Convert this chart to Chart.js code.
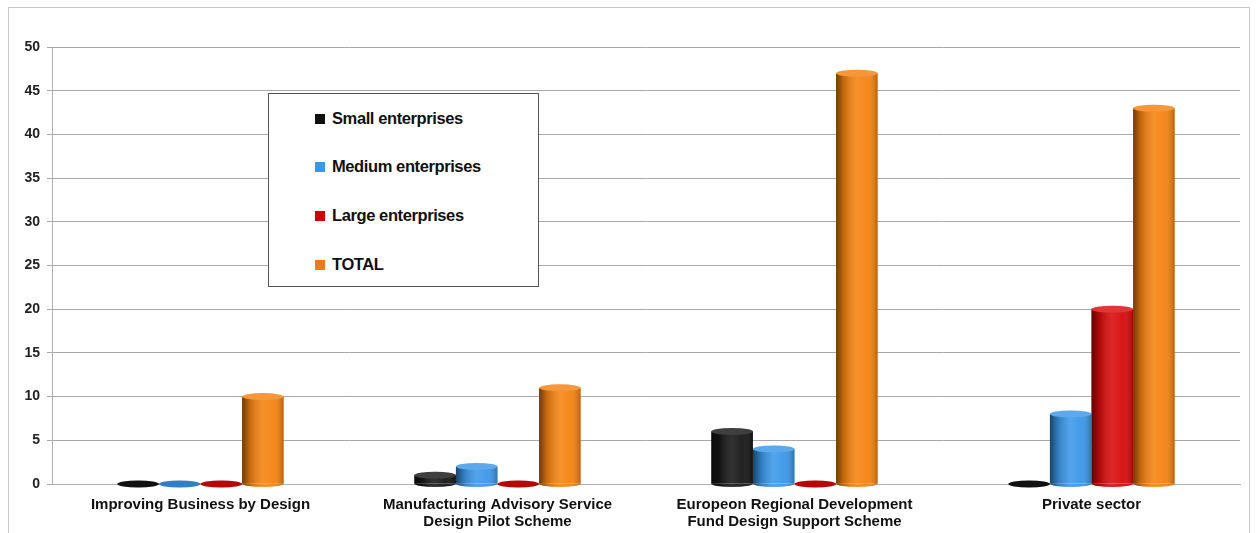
<!DOCTYPE html>
<html>
<head>
<meta charset="utf-8">
<script src="https://cdn.jsdelivr.net/npm/chart.js@4.4.1/dist/chart.umd.min.js"></script>
<style>
  html, body { margin: 0; padding: 0; background: #fff; }
  #wrap { position: relative; width: 1257px; height: 533px; }
  #frame { position: absolute; left: 8px; top: 7px; width: 1242px; height: 530px; border: 1px solid #c8c8c8; box-sizing: border-box; }
  #chart { position: absolute; left: 0; top: 0; }
  #legend {
    position: absolute; left: 268px; top: 93px; width: 271px; height: 194px;
    border: 1px solid #555; background: #fff; box-sizing: border-box;
    font-family: 'Liberation Sans', Arial, sans-serif; font-weight: bold; font-size: 16.5px; color: #111;
  }
  #legend .item { position: absolute; left: 46px; height: 20px; line-height: 20px; white-space: nowrap; letter-spacing: -0.4px; }
  #legend .sw { display: inline-block; width: 10px; height: 10px; margin-right: 7px; vertical-align: 0px; }
</style>
</head>
<body>
<div id="wrap">
  <div id="frame"></div>
  <canvas id="chart" width="1257" height="533"></canvas>
  <div id="legend"></div>
</div>
<script>
// data
const categories = [
  'Improving Business by Design',
  ['Manufacturing Advisory Service', 'Design Pilot Scheme'],
  ['Europeon Regional Development', 'Fund Design Support Scheme'],
  'Private sector'
];
const seriesNames = ['Small enterprises', 'Medium enterprises', 'Large enterprises', 'TOTAL'];
const smallValues  = [0, 1, 6, 0];
const mediumValues = [0, 2, 4, 8];
const largeValues  = [0, 0, 0, 20];
const totalValues  = [10, 11, 47, 43];
const yTicks = [0, 5, 10, 15, 20, 25, 30, 35, 40, 45, 50];

const seriesColors = ['#151515', '#3a97e8', '#d80a0a', '#f5820f'];
const legendColors = ['#111111', '#3399ee', '#cc0000', '#ee7722'];

const allValues = [smallValues, mediumValues, largeValues, totalValues];

// cylinder look: shade each bar the library drew, add top/bottom ellipses
const cylinders = {
  id: 'cylinders',
  afterDatasetsDraw(chart) {
    const ctx = chart.ctx;
    chart.data.datasets.forEach((ds, di) => {
      const meta = chart.getDatasetMeta(di);
      meta.data.forEach(el => {
        const p = el.getProps(['x', 'y', 'base', 'width'], true);
        const l = p.x - p.width / 2, r = p.x + p.width / 2;
        const ry = 3.5;
        ctx.save();
        if (p.base - p.y > 0.5) {
          const g = ctx.createLinearGradient(l, 0, r, 0);
          g.addColorStop(0, 'rgba(0,0,0,0.55)');
          g.addColorStop(0.18, 'rgba(0,0,0,0.2)');
          g.addColorStop(0.5, 'rgba(255,255,255,0.12)');
          g.addColorStop(0.75, 'rgba(255,255,255,0.05)');
          g.addColorStop(1, 'rgba(0,0,0,0.25)');
          // bottom half ellipse
          ctx.beginPath();
          ctx.ellipse(p.x, p.base, p.width / 2, ry, 0, 0, Math.PI);
          ctx.fillStyle = ds.backgroundColor;
          ctx.fill();
          ctx.fillStyle = g;
          ctx.fill();
          ctx.fillRect(l, p.y, p.width, p.base - p.y);
        }
        // top ellipse
        ctx.beginPath();
        ctx.ellipse(p.x, p.y, p.width / 2, ry, 0, 0, Math.PI * 2);
        ctx.fillStyle = ds.backgroundColor;
        ctx.fill();
        ctx.fillStyle = p.base - p.y > 0.5 ? 'rgba(255,255,255,0.18)' : 'rgba(0,0,0,0.15)';
        ctx.fill();
        ctx.restore();
      });
    });
  }
};

const chart = new Chart(document.getElementById('chart'), {
  type: 'bar',
  data: {
    labels: categories,
    datasets: seriesNames.map((name, i) => ({
      label: name,
      data: allValues[i],
      backgroundColor: seriesColors[i],
      borderWidth: 0,
      barPercentage: 1,
      categoryPercentage: 0.56
    }))
  },
  options: {
    responsive: false,
    animation: false,
    layout: { padding: { left: 12, right: 17, top: 47, bottom: 0 } },
    plugins: { legend: { display: false }, tooltip: { enabled: false } },
    scales: {
      x: {
        afterFit(scale) { scale.height = 49; },
        grid: { display: false, drawTicks: false },
        border: { color: '#b0b0b0' },
        ticks: {
          color: '#111',
          padding: 13,
          maxRotation: 0,
          autoSkip: false,
          font: { family: 'Liberation Sans', weight: 'bold', size: 15, lineHeight: 1.1 }
        }
      },
      y: {
        min: 0,
        max: 50,
        afterFit(scale) { scale.width = 40; },
        afterBuildTicks(scale) { scale.ticks = yTicks.map(v => ({ value: v })); },
        grid: { color: '#a8a8a8', tickLength: 5, drawTicks: true },
        border: { color: '#b0b0b0' },
        ticks: {
          color: '#222',
          padding: 7,
          font: { family: 'Liberation Sans', weight: 'bold', size: 14 }
        }
      }
    }
  },
  plugins: [cylinders]
});

// legend box as html
const legend = document.getElementById('legend');
const rowTops = [14, 62, 111, 160];
seriesNames.forEach((name, i) => {
  const it = document.createElement('div');
  it.className = 'item';
  it.style.top = rowTops[i] + 'px';
  it.innerHTML = '<span class="sw" style="background:' + legendColors[i] + '"></span>' + name;
  legend.appendChild(it);
});
</script>
</body>
</html>
